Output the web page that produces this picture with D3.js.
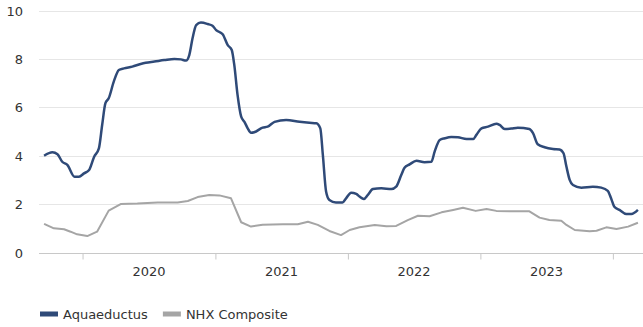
<!DOCTYPE html>
<html>
<head>
<meta charset="utf-8">
<script src="https://cdn.jsdelivr.net/npm/d3@7/dist/d3.min.js"></script>
<style>
  html, body { margin: 0; padding: 0; background: #fff; }
  svg { display: block; font-family: "DejaVu Sans", Verdana, sans-serif; }
</style>
</head>
<body>
<svg id="chart" width="643" height="327"></svg>
<script>
// Aquaeductus price series (date, value)
const aquaDates = [
  "2019-09-17","2019-10-10","2019-10-24","2019-11-06","2019-11-20","2019-12-10","2019-12-22",
  "2020-01-05","2020-01-19","2020-02-02","2020-02-15","2020-02-24","2020-03-04","2020-03-13",
  "2020-03-27","2020-04-10","2020-04-24","2020-05-17","2020-06-09","2020-06-23","2020-07-17",
  "2020-08-13","2020-09-10","2020-09-28","2020-10-12","2020-10-21","2020-10-30","2020-11-09",
  "2020-11-22","2020-12-11","2020-12-24","2021-01-03","2021-01-21","2021-02-04","2021-02-15",
  "2021-02-22","2021-03-03","2021-03-13","2021-03-22","2021-03-31","2021-04-09","2021-04-18",
  "2021-05-11","2021-05-25","2021-06-13","2021-07-15","2021-08-21","2021-09-17","2021-10-06",
  "2021-10-17","2021-10-24","2021-11-02","2021-11-11","2021-11-29","2021-12-17","2021-12-27",
  "2022-01-10","2022-01-24","2022-02-02","2022-02-14","2022-02-25","2022-03-11","2022-04-03",
  "2022-05-01","2022-05-14","2022-05-28","2022-06-06","2022-06-20","2022-07-09","2022-07-31",
  "2022-08-19","2022-08-28","2022-09-11","2022-09-25","2022-10-13","2022-10-31","2022-11-24",
  "2022-12-12","2022-12-21","2023-01-04","2023-01-22","2023-02-14","2023-02-23","2023-03-09",
  "2023-03-27","2023-04-14","2023-05-16","2023-05-26","2023-06-08","2023-06-27","2023-07-20",
  "2023-08-07","2023-08-18","2023-08-26","2023-09-04","2023-09-13","2023-10-06","2023-11-07",
  "2023-11-30","2023-12-18","2023-12-27","2024-01-05","2024-01-19","2024-02-07","2024-02-21",
  "2024-03-10"
];
const aquaValues = [
  4.00,4.14,4.06,3.75,3.62,3.13,3.13,
  3.27,3.41,3.96,4.30,5.27,6.17,6.37,
  7.06,7.54,7.61,7.68,7.79,7.84,7.89,
  7.95,8.00,7.98,7.93,8.16,8.85,9.40,
  9.50,9.44,9.37,9.19,9.02,8.57,8.37,
  7.75,6.51,5.61,5.40,5.13,4.95,4.97,
  5.16,5.20,5.40,5.48,5.40,5.36,5.34,
  5.13,4.03,2.51,2.17,2.07,2.07,2.24,
  2.47,2.42,2.31,2.21,2.38,2.62,2.65,
  2.62,2.72,3.20,3.50,3.64,3.79,3.73,
  3.75,4.17,4.65,4.72,4.77,4.76,4.69,
  4.69,4.86,5.13,5.20,5.32,5.27,5.10,
  5.12,5.16,5.10,4.93,4.47,4.35,4.28,
  4.26,4.10,3.55,3.00,2.79,2.68,2.72,
  2.68,2.55,2.24,1.89,1.76,1.59,1.59,
  1.76
];

// NHX Composite series (date, value)
const nhxDates = [
  "2019-09-17","2019-10-14","2019-11-11","2019-11-29","2019-12-17","2020-01-14","2020-02-10",
  "2020-03-13","2020-04-15","2020-05-31","2020-07-26","2020-09-19","2020-10-17","2020-11-13",
  "2020-12-15","2021-01-12","2021-02-13","2021-03-13","2021-04-09","2021-05-11","2021-07-06",
  "2021-08-16","2021-09-13","2021-10-10","2021-11-11","2021-12-13","2022-01-06","2022-02-02",
  "2022-03-16","2022-04-17","2022-05-14","2022-06-15","2022-07-13","2022-08-14","2022-09-16",
  "2022-10-18","2022-11-14","2022-12-19","2023-01-18","2023-02-14","2023-03-22","2023-05-16",
  "2023-06-13","2023-07-10","2023-08-12","2023-08-26","2023-09-18","2023-10-29","2023-11-17",
  "2023-12-14","2024-01-11","2024-02-12","2024-03-10"
];
const nhxValues = [
  1.18,1.00,0.96,0.86,0.75,0.68,0.86,
  1.73,2.00,2.02,2.07,2.07,2.13,2.29,
  2.38,2.36,2.24,1.25,1.07,1.15,1.17,
  1.17,1.27,1.14,0.89,0.72,0.93,1.04,
  1.14,1.08,1.10,1.34,1.52,1.50,1.66,
  1.76,1.85,1.72,1.80,1.72,1.70,1.70,
  1.44,1.34,1.31,1.14,0.93,0.88,0.90,
  1.04,0.97,1.07,1.23
];

const yTicks = [0, 2, 4, 6, 8, 10];
const yearLabels = ["2020", "2021", "2022", "2023"];
const seriesNames = ["Aquaeductus", "NHX Composite"];
const seriesColors = ["#2f4a78", "#a5a5a5"];

const parse = d3.timeParse("%Y-%m-%d");
const aqua = aquaDates.map((d, i) => ({ date: parse(d), value: aquaValues[i] }));
const nhx = nhxDates.map((d, i) => ({ date: parse(d), value: nhxValues[i] }));

const svg = d3.select("#chart");
const plot = { left: 39, right: 643, top: 10.5, bottom: 252.5 };

const x = d3.scaleTime()
  .domain([parse("2019-09-03"), parse("2024-03-24")])
  .range([plot.left, plot.right]);
const y = d3.scaleLinear().domain([0, 10]).range([plot.bottom, plot.top]);

// horizontal gridlines
svg.append("g")
  .selectAll("line")
  .data(yTicks.filter(t => t > 0))
  .join("line")
  .attr("x1", plot.left).attr("x2", plot.right)
  .attr("y1", d => Math.round(y(d)) + 0.5).attr("y2", d => Math.round(y(d)) + 0.5)
  .attr("stroke", "#e6e6e6").attr("stroke-width", 1);

// y-axis labels
svg.append("g")
  .selectAll("text")
  .data(yTicks)
  .join("text")
  .attr("x", 23)
  .attr("y", d => y(d) + 5)
  .attr("text-anchor", "end")
  .attr("font-size", 13)
  .attr("fill", "#333")
  .text(d => d);

// x axis: baseline, ticks at year boundaries, labels at mid-year
const yearStarts = [2020, 2021, 2022, 2023, 2024].map(yr => new Date(yr, 0, 1));
const xAxis = d3.axisBottom(x)
  .tickValues(yearStarts)
  .tickSize(6)
  .tickFormat("");
const gx = svg.append("g")
  .attr("transform", `translate(0,${Math.round(plot.bottom) + 0.5})`)
  .call(xAxis);
gx.select(".domain").attr("stroke", "#c8c8c8").attr("d", `M${plot.left},0H${plot.right}`);
gx.selectAll(".tick line").attr("stroke", "#c8c8c8");

svg.append("g")
  .selectAll("text")
  .data(yearLabels)
  .join("text")
  .attr("x", d => x(new Date(+d, 6, 2)))
  .attr("y", 276)
  .attr("text-anchor", "middle")
  .attr("font-size", 13)
  .attr("fill", "#333")
  .text(d => d);

// series lines
const lineSmooth = d3.line()
  .x(d => x(d.date)).y(d => y(d.value))
  .curve(d3.curveMonotoneX);
const lineStraight = d3.line()
  .x(d => x(d.date)).y(d => y(d.value));

svg.append("path")
  .datum(nhx)
  .attr("d", lineStraight)
  .attr("fill", "none")
  .attr("stroke", seriesColors[1])
  .attr("stroke-width", 2)
  .attr("stroke-linejoin", "round");

svg.append("path")
  .datum(aqua)
  .attr("d", lineSmooth)
  .attr("fill", "none")
  .attr("stroke", seriesColors[0])
  .attr("stroke-width", 2.5)
  .attr("stroke-linejoin", "round");

// legend
const legend = svg.append("g").attr("transform", "translate(40,314)");
let lx = 0;
seriesNames.forEach((name, i) => {
  const g = legend.append("g").attr("transform", `translate(${lx},0)`);
  g.append("rect")
    .attr("x", 0).attr("y", -2.5)
    .attr("width", 18).attr("height", 5)
    .attr("fill", seriesColors[i]);
  const t = g.append("text")
    .attr("x", 23).attr("y", 5)
    .attr("font-size", 13)
    .attr("fill", "#333")
    .text(name);
  lx += 23 + t.node().getComputedTextLength() + 15;
});
</script>
</body>
</html>
